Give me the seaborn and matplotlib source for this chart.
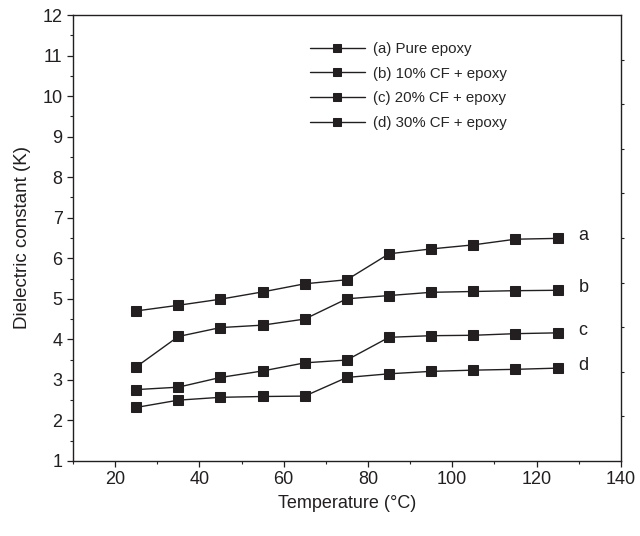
import numpy as np
import pandas as pd
import matplotlib.pyplot as plt
from matplotlib.ticker import MultipleLocator
import seaborn as sns

sns.set_style("ticks")
plt.rcParams["font.family"] = ["Liberation Sans", "DejaVu Sans"]

# data
temperature = [25, 35, 45, 55, 65, 75, 85, 95, 105, 115, 125]
pure_epoxy = [4.70, 4.84, 4.99, 5.17, 5.37, 5.47, 6.11, 6.23, 6.33, 6.47, 6.49]
cf10_epoxy = [3.32, 4.07, 4.29, 4.35, 4.50, 5.00, 5.08, 5.16, 5.18, 5.20, 5.21]
cf20_epoxy = [2.76, 2.82, 3.06, 3.22, 3.42, 3.49, 4.05, 4.09, 4.10, 4.14, 4.16]
cf30_epoxy = [2.32, 2.50, 2.57, 2.59, 2.60, 3.06, 3.15, 3.21, 3.24, 3.26, 3.29]
series_names = ["(a) Pure epoxy", "(b) 10% CF + epoxy", "(c) 20% CF + epoxy", "(d) 30% CF + epoxy"]
end_labels = ["a", "b", "c", "d"]

all_values = [pure_epoxy, cf10_epoxy, cf20_epoxy, cf30_epoxy]
df = pd.concat(
    [pd.DataFrame({"temperature": temperature, "K": vals, "sample": name})
     for name, vals in zip(series_names, all_values)],
    ignore_index=True,
)

fig = plt.figure(figsize=(6.4, 5.36), dpi=100)
ax = fig.add_axes([0.114, 0.140, 0.856, 0.832])

dark = "#231f20"
sns.lineplot(
    data=df, x="temperature", y="K", hue="sample", style="sample",
    markers=["s"] * 4, dashes=False, palette=[dark] * 4,
    markersize=6.5, linewidth=1.0, markeredgecolor=dark, ax=ax,
)

# letters at the end of each curve
for lab, vals in zip(end_labels, all_values):
    ax.text(130, vals[-1] + 0.06, lab, fontsize=13, ha="left", va="center", color=dark)

ax.set_xlim(10, 140)
ax.set_ylim(1, 12)
ax.xaxis.set_major_locator(MultipleLocator(20))
ax.xaxis.set_minor_locator(MultipleLocator(10))
ax.yaxis.set_major_locator(MultipleLocator(1))
ax.yaxis.set_minor_locator(MultipleLocator(0.5))
ax.tick_params(which="major", length=4, width=0.9, labelsize=13, colors=dark)
ax.tick_params(which="minor", length=2.5, width=0.8)
ax.set_xticks([20, 40, 60, 80, 100, 120, 140])
ax.set_xlabel("Temperature (\u00b0C)", fontsize=13, color=dark, labelpad=5)
ax.set_ylabel("Dielectric constant (K)", fontsize=13.5, color=dark, labelpad=8)
for s in ax.spines.values():
    s.set_linewidth(1.0)
    s.set_color(dark)

# stray right-hand ticks seen on the original frame
ax2 = ax.twinx()
ax2.set_ylim(0, 10)
ax2.set_yticks(range(1, 10))
ax2.set_yticklabels([])
ax2.tick_params(axis="y", length=2, width=0.8, colors=dark)
for s in ax2.spines.values():
    s.set_visible(False)

leg = ax.legend(
    loc="upper left", bbox_to_anchor=(0.432, 0.94), frameon=False,
    fontsize=10.8, handlelength=3.7, handletextpad=0.5, labelspacing=0.72,
    borderpad=0, borderaxespad=0, markerscale=0.85,
)

fig.savefig("out.png", dpi=100)
